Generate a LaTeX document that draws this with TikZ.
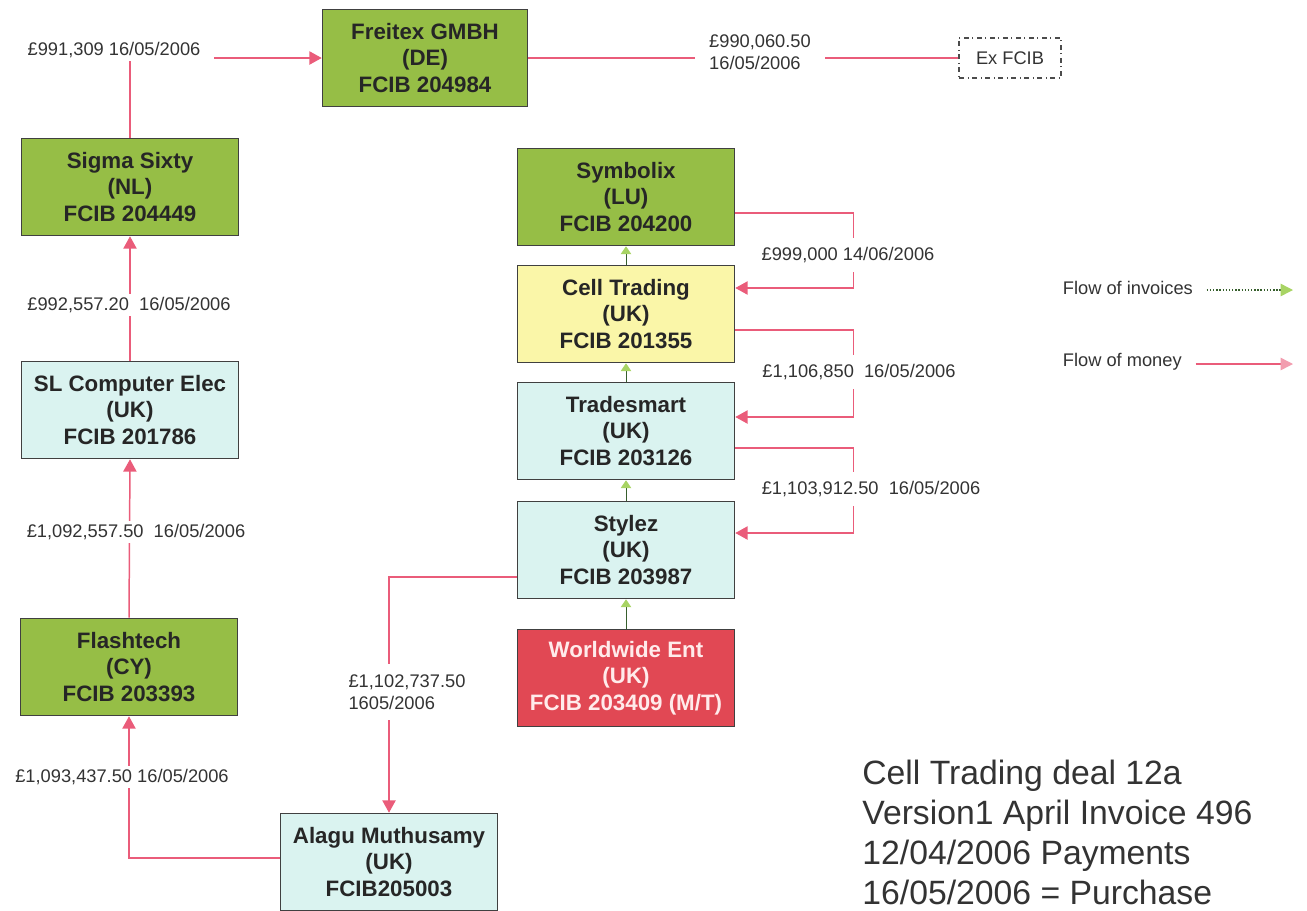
\documentclass[tikz,border=0pt]{standalone}
\usepackage{fontspec}
\setmainfont{Liberation Sans}
\usetikzlibrary{arrows.meta,positioning,calc}
\definecolor{firmgreen}{RGB}{150,190,70}
\definecolor{firmyellow}{RGB}{250,246,168}
\definecolor{firmcyan}{RGB}{218,243,240}
\definecolor{firmred}{RGB}{225,72,84}
\definecolor{paypink}{RGB}{234,92,122}
\definecolor{invdark}{RGB}{55,95,45}
\definecolor{invlight}{RGB}{168,212,100}

\begin{document}
\begin{tikzpicture}[x=.02cm,y=-.02cm,
firm/.style={draw=black!75,line width=.9pt,align=center,text=black!85,font=\fontsize{12.7}{15.1}\selectfont\bfseries,minimum width=4.34cm,minimum height=1.94cm,inner sep=0pt},
pay/.style={-{Triangle[length=7pt,width=7.5pt]},line width=.85pt,draw=paypink},
inv/.style={-{Triangle[length=4.5pt,width=6pt,color=invlight]},line width=.45pt,draw=invdark},
amt/.style={fill=white,font=\fontsize{10.4}{12.4}\selectfont,text=black!80,inner sep=2pt}]

\useasboundingbox(0,0)rectangle(1307,910);

\node[firm,fill=firmgreen,minimum width=4.1cm](freitex)at(425,58){Freitex GMBH\\(DE)\\FCIB 204984};
\node[draw=black!70,dash dot,line width=.8pt,font=\fontsize{10.4}{12}\selectfont,text=black!80,minimum width=2.04cm,minimum height=.8cm](exfcib)at(1010,58){Ex FCIB};
\node[firm,fill=firmgreen](sigma)at(130,187){Sigma Sixty\\(NL)\\FCIB 204449};
\node[firm,fill=firmcyan](slce)at(130,410){SL Computer Elec\\(UK)\\FCIB 201786};
\node[firm,fill=firmgreen](flash)at(129,667){Flashtech\\(CY)\\FCIB 203393};
\node[firm,fill=firmcyan](alagu)at(389,862){Alagu Muthusamy\\(UK)\\FCIB205003};
\node[firm,fill=firmgreen](symb)at(626,197){Symbolix\\(LU)\\FCIB 204200};
\node[firm,fill=firmyellow](cell)at(626,314){Cell Trading\\(UK)\\FCIB 201355};
\node[firm,fill=firmcyan](trade)at(626,431){Tradesmart\\(UK)\\FCIB 203126};
\node[firm,fill=firmcyan](stylez)at(626,550){Stylez\\(UK)\\FCIB 203987};
\node[firm,fill=firmred,text=white!92!red](world)at(626,678){Worldwide Ent\\(UK)\\FCIB 203409 (M/T)};

\draw[pay](sigma.north)|-(freitex.west);
\draw[draw=paypink,line width=.85pt](freitex.east)--(exfcib.west);
\draw[pay](slce.north)--(sigma.south);
\draw[pay](flash.north)--(slce.south);
\draw[pay]($(alagu.west)+(0,-4)$)-|(flash.south);
\draw[pay]($(stylez.west)+(0,27)$)-|(alagu.north);
\draw[pay]($(symb.east)+(0,16)$)--++(118,0)|-($(cell.east)+(0,-26)$);
\draw[pay]($(cell.east)+(0,16)$)--++(118,0)|-($(trade.east)+(0,-14)$);
\draw[pay]($(trade.east)+(0,17)$)--++(118,0)|-($(stylez.east)+(0,-17)$);
\foreach \a/\b in {world/stylez,stylez/trade,trade/cell,cell/symb}
 \draw[inv](\a.north)--(\b.south);

\node[amt,inner xsep=8pt](m1)at(114,50){£991,309 16/05/2006};
\node[amt,align=left,inner xsep=8pt](m2)at(760,52){£990,060.50\\16/05/2006};
\node[amt](m3)at(129,305){£992,557.20\ \ 16/05/2006};
\node[amt](m4)at(136,532){£1,092,557.50\ \ 16/05/2006};
\node[amt](m5)at(122,777){£1,093,437.50 16/05/2006};
\node[amt,align=left,inner ysep=6pt](m6)at(407,692){£1,102,737.50\\1605/2006};
\node[amt,inner ysep=5pt](m7)at(848,255){£999,000 14/06/2006};
\node[amt,inner ysep=5pt](m8)at(859,372){£1,106,850\ \ 16/05/2006};
\node[amt,inner ysep=5pt](m9)at(871,489){£1,103,912.50\ \ 16/05/2006};

\node[amt,anchor=west](invkey)at(1059,288){Flow of invoices};
\coordinate(invend)at(1293,290);
\draw[draw=invdark,line width=.8pt,densely dotted,-{Triangle[length=7pt,width=7pt,color=invlight]}]($(invkey.east)+(10,2)$)--(invend);
\node[amt,anchor=west](paykey)at(1059,362){Flow of money};
\coordinate(payend)at(1293,364);
\draw[draw=paypink,line width=.8pt,-{Triangle[length=7pt,width=7pt,color=paypink!60]}]($(paykey.east)+(10,2)$)--(payend);

\node[anchor=north west,align=left,inner sep=0pt,font=\fontsize{19.2}{22.7}\selectfont,text=black!80](note)at(862,760){Cell Trading deal 12a\\Version1 April Invoice 496\\12/04/2006 Payments\\16/05/2006 = Purchase};
\end{tikzpicture}
\end{document}
